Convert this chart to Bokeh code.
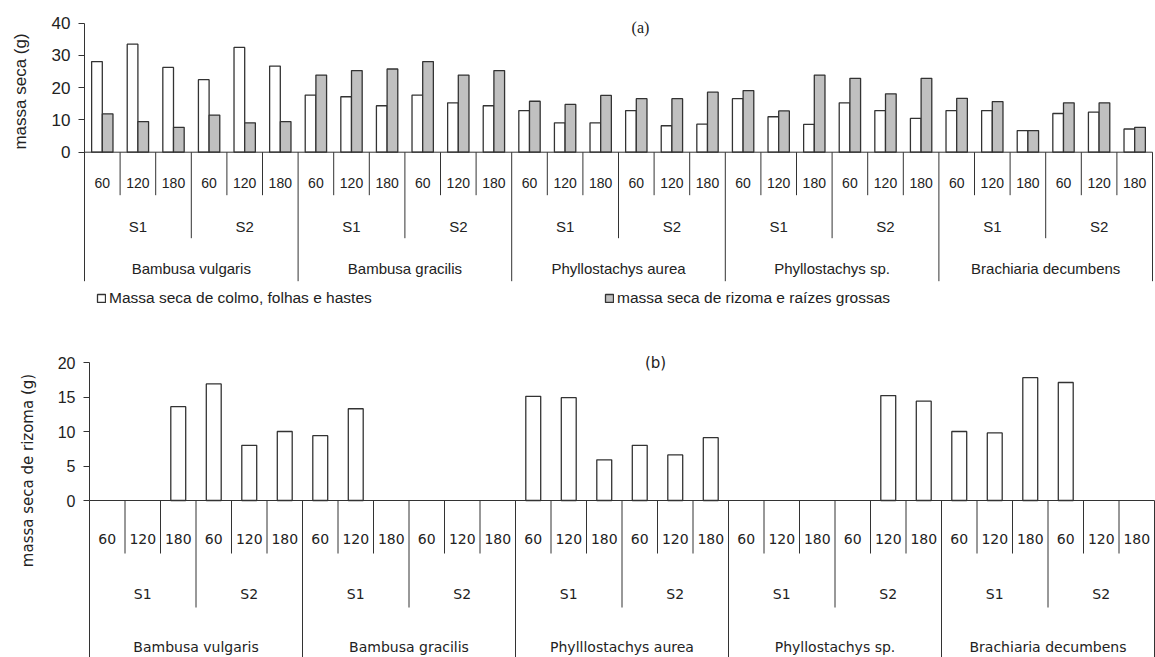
import math
import numpy as np
from bokeh.plotting import figure
from bokeh.models import (Range1d, Label, Legend, LegendItem, FixedTicker,
                          ColumnDataSource, CDSView, BooleanFilter)
from bokeh.layouts import column
from bokeh.embed import file_html
from bokeh.resources import INLINE
from bokeh.core.properties import value

# ---------------- data ----------------
species_a = ["Bambusa vulgaris", "Bambusa gracilis", "Phyllostachys aurea",
             "Phyllostachys sp.", "Brachiaria decumbens"]
species_b = ["Bambusa vulgaris", "Bambusa gracilis", "Phylllostachys aurea",
             "Phyllostachys sp.", "Brachiaria decumbens"]
sites = ["S1", "S2"]
days = ["60", "120", "180"]

# (a) massa seca de colmo, folhas e hastes (g)
colmo = [28.1, 33.5, 26.3, 22.5, 32.5, 26.7,
         17.7, 17.2, 14.4, 17.7, 15.3, 14.4,
         12.9, 9.1, 9.1, 12.9, 8.2, 8.7,
         16.6, 11.0, 8.6, 15.3, 12.9, 10.5,
         12.9, 12.9, 6.7, 12.0, 12.4, 7.2]
# (a) massa seca de rizoma e raízes grossas (g)
rizoma_raizes = [11.9, 9.5, 7.7, 11.5, 9.1, 9.5,
                 23.9, 25.3, 25.8, 28.1, 23.9, 25.3,
                 15.8, 14.8, 17.6, 16.6, 16.6, 18.6,
                 19.1, 12.8, 23.9, 22.9, 18.1, 22.9,
                 16.7, 15.7, 6.7, 15.3, 15.3, 7.7]
# (b) massa seca de rizoma (g)
rizoma = [0, 0, 13.6, 16.9, 8.0, 10.0,
          9.4, 13.3, 0, 0, 0, 0,
          15.1, 14.9, 5.9, 8.0, 6.6, 9.1,
          0, 0, 0, 0, 15.2, 14.4,
          10.0, 9.8, 17.8, 17.1, 0, 0]

ticks_a = [0, 10, 20, 30, 40]
ticks_b = [0, 5, 10, 15, 20]

# ---------------- helpers ----------------
n_days, n_sites, n_species = len(days), len(sites), len(species_a)
n = n_days * n_sites * n_species
centers = np.arange(n) + 0.5
day_text = [d for _ in range(n_species * n_sites) for d in days]
site_text = [s for _ in range(n_species) for s in sites]
site_centers = np.arange(n_species * n_sites) * n_days + n_days / 2
species_centers = np.arange(n_species) * n_days * n_sites + n_days * n_sites / 2
bounds = np.arange(n + 1)

INK = "#333333"
TXT = "#222222"
W = 1155


def base_fig(height, x0_px, xn_px, y0_px, ppu):
    """Frame covers the whole canvas; x0_px/xn_px: px of first/last category
    boundary, y0_px: px (from top) of value 0; ppu: px per unit."""
    ppc = (xn_px - x0_px) / n
    x_start = -x0_px / ppc
    x_end = (W - x0_px) / ppc
    y_end = y0_px / ppu
    y_start = y_end - height / ppu
    p = figure(width=W, height=height, output_backend="svg", toolbar_location=None,
               x_axis_location=None, min_border=0,
               x_range=Range1d(x_start, x_end), y_range=Range1d(y_start, y_end))
    p.outline_line_color = None
    p.xgrid.visible = False
    p.ygrid.visible = False
    p.background_fill_color = "white"
    p.border_fill_color = "white"
    return p


def style_yaxis(p, ticks, font_size, standoff):
    ax = p.yaxis[0]
    ax.fixed_location = 0
    ax.ticker = FixedTicker(ticks=ticks)
    ax.bounds = (ticks[0], ticks[-1])
    ax.axis_line_color = INK
    ax.major_tick_line_color = INK
    ax.major_tick_out = 6
    ax.major_tick_in = 0
    ax.minor_tick_line_color = None
    ax.major_label_text_font = "Liberation Sans"
    ax.major_label_text_font_size = font_size
    ax.major_label_text_color = TXT
    ax.major_label_standoff = standoff


def cat_axis(p, ppu, species_names, font, sizes, rows, depths):
    d_day, d_site, d_spec = depths
    depth = []
    for k in bounds:
        if k % (n_days * n_sites) == 0:
            depth.append(d_spec)
        elif k % n_days == 0:
            depth.append(d_site)
        else:
            depth.append(d_day)
    p.segment(x0=bounds, y0=np.zeros(len(bounds)), x1=bounds, y1=-np.array(depth) / ppu,
              line_color=INK, line_width=1)
    p.segment(x0=[0], y0=[0], x1=[n], y1=[0], line_color=INK, line_width=1)
    r_day, r_site, r_spec = rows
    s_day, s_site, s_spec = sizes
    common = dict(text_font=value(font), text_align="center",
                  text_baseline="middle", text_color=TXT)
    p.text(x=centers, y=np.full(n, -r_day / ppu), text=day_text,
           text_font_size=s_day, **common)
    p.text(x=site_centers, y=np.full(len(site_centers), -r_site / ppu), text=site_text,
           text_font_size=s_site, **common)
    p.text(x=species_centers, y=np.full(n_species, -r_spec / ppu), text=species_names,
           text_font_size=s_spec, **common)


def ylabel(p, text, x_px, y_px_from_top, height, font, size):
    p.add_layout(Label(x=x_px, y=height - y_px_from_top, x_units="screen", y_units="screen",
                       text=text, angle=math.pi / 2, text_font=font, text_font_size=size,
                       text_align="center", text_baseline="middle", text_color=TXT))


# ---------------- panel (a) ----------------
A_H = 340
A_Y0, A_PPU = 151.7, 3.225
pa = base_fig(A_H, 84, 1152, A_Y0, A_PPU)
style_yaxis(pa, ticks_a, "17px", 8)

bw = 0.3
r_white = pa.vbar(x=centers - bw / 2, top=colmo, width=bw, fill_color="white",
                  line_color=INK, line_width=1.3)
r_gray = pa.vbar(x=centers + bw / 2, top=rizoma_raizes, width=bw, fill_color="#c0c0c0",
                 line_color=INK, line_width=1.3)
cat_axis(pa, A_PPU, species_a, "Liberation Sans", ("14px", "15px", "15px"),
         (31, 74, 116), (43, 86, 129))

leg_common = dict(padding=0, margin=0, spacing=0, border_line_color=None,
                  background_fill_alpha=0, glyph_width=10, glyph_height=10,
                  label_standoff=3, label_text_font="Liberation Sans",
                  label_text_font_size="15.5px", label_text_color=TXT, label_height=20)
pa.add_layout(Legend(items=[LegendItem(label="Massa seca de colmo, folhas e hastes",
                                       renderers=[r_white])], location=(96, 32), **leg_common))
pa.add_layout(Legend(items=[LegendItem(label="massa seca de rizoma e raízes grossas",
                                       renderers=[r_gray])], location=(604, 32), **leg_common))

pa.add_layout(Label(x=640, y=A_H - 27, x_units="screen", y_units="screen", text="(a)",
                    text_font="Liberation Serif", text_font_size="16px",
                    text_align="center", text_baseline="middle", text_color=TXT))
ylabel(pa, "massa seca (g)", 20, 91, A_H, "Liberation Sans", "17px")

# ---------------- panel (b) ----------------
B_H = 317
B_Y0, B_PPU = 160.0, 6.9
pb = base_fig(B_H, 89, 1154, B_Y0, B_PPU)
style_yaxis(pb, ticks_b, "16px", 8)
src_b = ColumnDataSource(dict(x=centers, top=rizoma))
view_b = CDSView(filter=BooleanFilter([v > 0 for v in rizoma]))
pb.vbar(x="x", top="top", source=src_b, view=view_b, width=0.42, fill_color="white",
        line_color=INK, line_width=1.3)
cat_axis(pb, B_PPU, species_b, "DejaVu Sans", ("14px", "14px", "14px"),
         (38, 93, 146), (53, 107, 170))

pb.add_layout(Label(x=655, y=B_H - 22, x_units="screen", y_units="screen", text="(b)",
                    text_font="DejaVu Sans", text_font_size="15px",
                    text_align="center", text_baseline="middle", text_color=TXT))
ylabel(pb, "massa seca de rizoma (g)", 27, 130, B_H, "DejaVu Sans", "15px")

layout = column(pa, pb, spacing=0)
open("out.html", "w").write(file_html(layout, INLINE))
